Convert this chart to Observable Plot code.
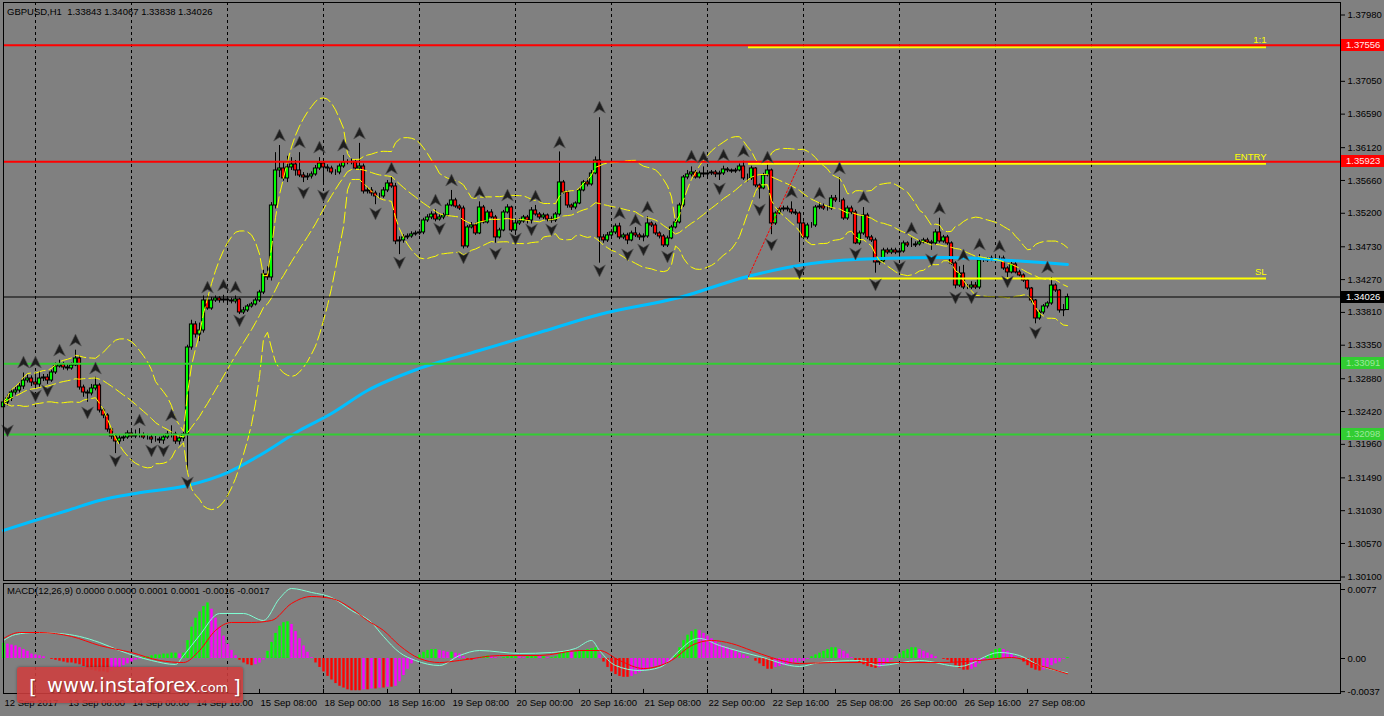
<!DOCTYPE html>
<html><head><meta charset="utf-8">
<script src="https://cdn.jsdelivr.net/npm/d3@7"></script>
<script src="https://cdn.jsdelivr.net/npm/@observablehq/plot@0.6"></script>
<style>
html,body{margin:0;padding:0;background:#808080;}
#wrap{position:relative;width:1384px;height:716px;overflow:hidden;background:#808080;font-family:"Liberation Sans",Arial,sans-serif;}
#main,#macd{position:absolute;left:0;}
#main{top:0}#macd{top:580px}
.hdr{position:absolute;font-size:9.5px;color:#000;white-space:pre;line-height:12px;}
.lbl{position:absolute;left:1341px;width:43px;height:12px;font-size:9.5px;line-height:12px;padding-left:5px;box-sizing:border-box;}
#logo{position:absolute;left:17px;top:667px;width:226px;height:36px;background:rgba(206,62,62,0.88);border-radius:3px;box-shadow:0 0 3px rgba(0,0,0,0.35);color:#fff;white-space:pre;font-family:"DejaVu Sans",sans-serif;}
#logo span.b{position:absolute;bottom:6px;font-size:20px;line-height:1;text-shadow:1px 1px 1px rgba(0,0,0,0.35);}
#logo span.t{position:absolute;left:30px;bottom:8px;font-size:19.5px;line-height:1;text-shadow:1px 1px 1px rgba(0,0,0,0.35);}
#logo span.t small{font-size:13px;}
</style></head><body><div id="wrap">
<div id="main"></div><div id="macd"></div>
<div class="hdr" style="left:7px;top:6px">GBPUSD,H1  1.33843 1.34067 1.33838 1.34026</div>
<div class="hdr" style="left:7px;top:585px">MACD(12,26,9) 0.0000 0.0000 0.0001 0.0001 -0.0016 -0.0017</div>
<div id="logo"><span class="b" style="left:12px">[</span><span class="t">www.instaforex<small>.com</small></span><span class="b" style="left:216px">]</span></div>
</div>
<script>
// ---------- DATA ----------
const firstOpen = 1.3248;
const closes = [
1.32547,1.32603,1.32687,1.32715,1.32771,1.32855,1.32883,1.32827,1.32799,1.32883,
1.32897,1.32855,1.32968,1.33052,1.33080,1.33038,1.33024,1.33066,1.33164,1.32757,
1.32687,1.32673,1.32743,1.32785,1.32435,1.32365,1.32168,1.32070,1.32000,1.32042,
1.32056,1.32112,1.32070,1.32084,1.32084,1.32056,1.32056,1.32028,1.32028,1.32014,
1.32056,1.32098,1.32098,1.32000,1.32042,1.32098,1.33318,1.33641,1.33500,1.33556,
1.33977,1.33865,1.33977,1.34005,1.33977,1.33991,1.33977,1.33963,1.33991,1.33809,
1.33837,1.33893,1.33921,1.33977,1.34089,1.34342,1.34300,1.35309,1.35800,1.35828,
1.35688,1.35842,1.35884,1.35800,1.35730,1.35702,1.35716,1.35744,1.35828,1.35898,
1.35842,1.35828,1.35772,1.35772,1.35856,1.35912,1.35912,1.35912,1.35828,1.35856,
1.35506,1.35520,1.35478,1.35436,1.35436,1.35520,1.35618,1.35576,1.34805,1.34819,
1.34861,1.34875,1.34903,1.34917,1.34931,1.35099,1.35141,1.35183,1.35113,1.35141,
1.35169,1.35309,1.35380,1.35295,1.35267,1.34735,1.35001,1.35029,1.34917,1.35281,
1.35071,1.35211,1.35141,1.34861,1.34959,1.35211,1.35281,1.34959,1.35057,1.35085,
1.35141,1.35099,1.35239,1.35183,1.35141,1.35169,1.35113,1.35099,1.35183,1.35632,
1.35492,1.35309,1.35281,1.35337,1.35520,1.35632,1.35604,1.35758,1.35940,1.34861,
1.34819,1.34889,1.34931,1.35015,1.34861,1.34889,1.34819,1.34917,1.34889,1.34861,
1.34875,1.35057,1.35029,1.34917,1.34875,1.34749,1.34847,1.35001,1.35071,1.35309,
1.35702,1.35744,1.35772,1.35702,1.35758,1.35744,1.35758,1.35772,1.35744,1.35758,
1.35814,1.35800,1.35786,1.35800,1.35856,1.35688,1.35688,1.35828,1.35590,1.35548,
1.35730,1.35800,1.35057,1.35197,1.35253,1.35267,1.35253,1.35211,1.35197,1.35057,
1.34861,1.35029,1.35029,1.35281,1.35295,1.35267,1.35267,1.35408,1.35380,1.35380,
1.35127,1.35267,1.35211,1.34777,1.34917,1.35169,1.34861,1.34819,1.34510,1.34524,
1.34678,1.34650,1.34678,1.34650,1.34664,1.34777,1.34749,1.34749,1.34763,1.34791,
1.34819,1.34791,1.34777,1.34931,1.34805,1.34861,1.34777,1.34496,1.34187,1.34356,
1.34159,1.34159,1.34187,1.34159,1.34538,1.34538,1.34552,1.34566,1.34566,1.34566,
1.34426,1.34370,1.34482,1.34370,1.34328,1.34257,1.34145,1.33977,1.33725,1.33809,
1.33893,1.33935,1.34187,1.34117,1.33837,1.33843,1.34026];
const highs = [
1.3260,1.3265,1.3273,1.3276,1.3282,1.3296,1.3293,1.3292,1.3296,1.3298,
1.3294,1.3294,1.3300,1.3310,1.3314,1.3311,1.3308,1.3310,1.3328,1.3320,
1.3279,1.3272,1.3280,1.3290,1.3281,1.3246,1.3239,1.3219,1.3210,1.3208,
1.3209,1.3215,1.3216,1.3216,1.3218,1.3212,1.3210,1.3209,1.3207,1.3206,
1.3209,1.3214,1.3222,1.3213,1.3208,1.3213,1.3335,1.3370,1.3368,1.3366,
1.3404,1.3404,1.3402,1.3404,1.3403,1.3405,1.3402,1.3401,1.3404,1.3401,
1.3388,1.3392,1.3395,1.3401,1.3412,1.3440,1.3445,1.3535,1.3605,1.3615,
1.3592,1.3600,1.3598,1.3594,1.3605,1.3577,1.3576,1.3578,1.3587,1.3598,
1.3592,1.3588,1.3586,1.3581,1.3589,1.3601,1.3595,1.3596,1.3594,1.3618,
1.3589,1.3556,1.3556,1.3551,1.3548,1.3556,1.3566,1.3570,1.3562,1.3487,
1.3490,1.3491,1.3494,1.3495,1.3497,1.3513,1.3518,1.3522,1.3525,1.3518,
1.3520,1.3534,1.3552,1.3541,1.3532,1.3530,1.3503,1.3507,1.3506,1.3536,
1.3531,1.3524,1.3525,1.3517,1.3499,1.3524,1.3532,1.3530,1.3509,1.3512,
1.3517,1.3517,1.3528,1.3531,1.3521,1.3520,1.3519,1.3515,1.3521,1.3606,
1.3566,1.3551,1.3533,1.3536,1.3555,1.3566,1.3568,1.3580,1.3599,1.3654,
1.3490,1.3493,1.3497,1.3505,1.3506,1.3492,1.3492,1.3495,1.3500,1.3492,
1.3491,1.3515,1.3508,1.3506,1.3494,1.3490,1.3488,1.3503,1.3511,1.3534,
1.3573,1.3580,1.3585,1.3580,1.3579,1.3585,1.3580,1.3580,1.3580,1.3579,
1.3586,1.3584,1.3582,1.3583,1.3589,1.3593,1.3575,1.3586,1.3584,1.3561,
1.3576,1.3592,1.3582,1.3522,1.3528,1.3530,1.3530,1.3536,1.3525,1.3522,
1.3508,1.3506,1.3507,1.3531,1.3535,1.3533,1.3530,1.3545,1.3545,1.3570,
1.3541,1.3530,1.3530,1.3524,1.3495,1.3528,1.3520,1.3489,1.3485,1.3456,
1.3471,1.3471,1.3471,1.3471,1.3470,1.3481,1.3480,1.3485,1.3480,1.3482,
1.3485,1.3485,1.3482,1.3497,1.3513,1.3489,1.3489,1.3480,1.3452,1.3445,
1.3447,1.3420,1.3424,1.3423,1.3462,1.3457,1.3458,1.3460,1.3461,1.3460,
1.3460,1.3445,1.3451,1.3451,1.3440,1.3435,1.3428,1.3416,1.3399,1.3384,
1.3392,1.3396,1.3430,1.3421,1.3413,1.3392,1.34067];
const lows = [
1.3236,1.3250,1.3256,1.3265,1.3268,1.3273,1.3282,1.3277,1.3274,1.3276,
1.3284,1.3280,1.3283,1.3294,1.3303,1.3300,1.3299,1.3300,1.3305,1.3272,
1.3262,1.3255,1.3264,1.3271,1.3240,1.3232,1.3213,1.3203,1.3183,1.3196,
1.3200,1.3203,1.3204,1.3204,1.3205,1.3203,1.3202,1.3197,1.3199,1.3197,
1.3196,1.3203,1.3205,1.3196,1.3195,1.3200,1.3159,1.3328,1.3345,1.3340,
1.3352,1.3384,1.3384,1.3395,1.3394,1.3394,1.3394,1.3393,1.3393,1.3378,
1.3378,1.3381,1.3387,1.3390,1.3395,1.3406,1.3426,1.3425,1.3526,1.3570,
1.3565,1.3563,1.3580,1.3572,1.3570,1.3563,1.3566,1.3568,1.3572,1.3580,
1.3560,1.3578,1.3574,1.3573,1.3574,1.3583,1.3588,1.3588,1.3580,1.3580,
1.3547,1.3547,1.3544,1.3532,1.3540,1.3541,1.3549,1.3555,1.3476,1.3462,
1.3478,1.3483,1.3485,1.3488,1.3489,1.3490,1.3507,1.3511,1.3508,1.3509,
1.3511,1.3515,1.3529,1.3527,1.3524,1.3470,1.3471,1.3498,1.3489,1.3490,
1.3505,1.3505,1.3512,1.3478,1.3484,1.3494,1.3519,1.3493,1.3489,1.3503,
1.3506,1.3505,1.3505,1.3516,1.3511,1.3511,1.3508,1.3506,1.3507,1.3516,
1.3547,1.3527,1.3524,1.3525,1.3532,1.3550,1.3557,1.3558,1.3574,1.3450,
1.3478,1.3479,1.3486,1.3490,1.3483,1.3483,1.3476,1.3480,1.3486,1.3482,
1.3480,1.3485,1.3500,1.3489,1.3484,1.3472,1.3472,1.3483,1.3498,1.3505,
1.3528,1.3567,1.3571,1.3568,1.3568,1.3570,1.3570,1.3573,1.3570,1.3566,
1.3573,1.3577,1.3576,1.3576,1.3578,1.3566,1.3564,1.3566,1.3556,1.3540,
1.3553,1.3571,1.3490,1.3503,1.3518,1.3522,1.3522,1.3518,1.3517,1.3451,
1.3483,1.3483,1.3499,1.3500,1.3525,1.3524,1.3523,1.3524,1.3535,1.3535,
1.3510,1.3510,1.3518,1.3476,1.3475,1.3489,1.3483,1.3479,1.3436,1.3447,
1.3450,1.3462,1.3462,1.3462,1.3460,1.3464,1.3472,1.3472,1.3472,1.3474,
1.3477,1.3477,1.3468,1.3475,1.3478,1.3478,1.3475,1.3447,1.3414,1.3416,
1.3413,1.3413,1.3413,1.3413,1.3413,1.3451,1.3451,1.3452,1.3453,1.3453,
1.3440,1.3430,1.3435,1.3435,1.3431,1.3423,1.3412,1.3394,1.3365,1.3370,
1.3378,1.3386,1.3391,1.3409,1.3380,1.3375,1.33838];

// fractal markers: [bar, price]
const fractalsUp = [[5,1.33108],[8,1.33108],[14,1.33276],[18,1.33416],[23,1.33024],[34,1.32295],[42,1.32365],
[51,1.34159],[55,1.34187],[58,1.34159],[69,1.36290],[74,1.36192],[79,1.36122],[85,1.36150],[89,1.36319],[97,1.35828],
[108,1.35379],[112,1.35660],[119,1.35491],[126,1.35449],[133,1.35435],[139,1.36192],[149,1.36683],[154,1.35197],
[158,1.35099],[161,1.35281],[172,1.35996],[175,1.35982],[180,1.36010],[185,1.36066],[191,1.35982],[197,1.35491],
[204,1.35477],[209,1.35828],[215,1.35421],[227,1.34987],[234,1.35267],[240,1.34608],[244,1.34762],[249,1.34734],[261,1.34440]];
const fractalsDown = [[1,1.32154],[8,1.32645],[11,1.32715],[21,1.32407],[28,1.31734],[37,1.31874],[40,1.31874],[46,1.31425],
[59,1.33697],[75,1.35491],[80,1.35449],[93,1.35197],[99,1.34510],[109,1.34987],[115,1.34580],[123,1.34636],[128,1.34846],
[132,1.34973],[137,1.34973],[149,1.34398],[156,1.34622],[160,1.34692],[166,1.34594],[179,1.35547],[189,1.35253],[192,1.34762],
[199,1.34370],[213,1.34636],[218,1.34201],[224,1.34454],[232,1.34552],[238,1.34019],[242,1.34019],[251,1.34243],[258,1.33528]];

// blue moving average: [bar, price]
const maPoints = [[0,1.30752],[7,1.30878],[16,1.31033],[24,1.31173],[33,1.31271],[46,1.31383],[56,1.31565],[64,1.31804],
[74,1.32154],[82,1.32393],[91,1.32715],[104,1.33024],[119,1.33276],[134,1.33528],[149,1.33781],[169,1.34019],
[186,1.34314],[202,1.34496],[219,1.34566],[236,1.34580],[252,1.34538],[266,1.34482]];

// levels
const redLevels = [1.37556, 1.35923];
const greenLevels = [1.33091, 1.32098];
const lastPrice = 1.34026;
const slLevel = 1.34313;
const tradeLabels = ["1:1", "ENTRY", "SL"];
const tradeLevels = [1.37556, 1.35923, 1.34313];
const tradeStart = 186.25, tradeEnd = 315.75;

const yTicks = [1.30100,1.30570,1.31030,1.31490,1.31960,1.32420,1.32880,1.33350,1.33810,1.34270,1.34730,1.35200,1.35660,1.36120,1.36590,1.37050,1.37510,1.37980];
const hiddenTick = 1.37510; // covered by the 1.37556 price tag

// MACD histogram per bar
const macdHist = [
.0017,.0016,.0015,.0014,.0012,.0010,.0008,
.0005,.0004,.0003,.0002,
0,-.0001,-.0002,-.0003,-.0004,-.0005,-.0005,-.0006,
-.0007,-.0009,-.0011,-.0013,-.0014,-.0015,-.0015,-.0016,
-.0014,-.0012,-.0010,-.0008,-.0006,-.0004,
-.0002,-.0001,.0001,
.0002,.0003,.0004,.0004,.0005,.0005,.0006,.0006,.0005,.0006,
.0020,.0035,.0045,.0052,.0058,.0062,
.0055,.0045,.0035,.0025,.0016,.0009,.0003,
-.0002,-.0005,-.0007,-.0008,-.0007,-.0005,-.0002,
.0008,.0018,.0028,.0036,.0040,.0041,.0038,
.0030,.0022,.0014,.0007,.0001,-.0005,
-.0010,-.0015,-.0020,-.0024,-.0028,-.0031,-.0033,-.0035,-.0036,-.0036,
-.0036,-.0035,-.0035,-.0034,-.0034,-.0033,-.0033,-.0032,-.0032,-.0031,
-.0026,-.0019,-.0012,-.0006,0,
.0004,.0007,.0009,.0010,.0010,.0009,.0008,.0007,.0007,.0006,.0005,.0002,
-.0001,-.0002,-.0001,.0001,.0002,.0003,.0002,.0001,0,.0001,.0002,.0003,
.0003,.0002,.0001,.0002,.0003,.0003,.0002,.0002,.0001,.0001,.0002,
.0006,.0008,.0008,.0007,.0007,.0008,.0009,.0010,.0011,.0012,
.0004,-.0004,-.0010,-.0015,-.0018,-.0020,-.0021,-.0021,
-.0020,-.0018,-.0016,-.0014,-.0012,-.0010,-.0009,-.0008,-.0007,-.0005,
-.0002,.0004,.0012,.0020,.0026,.0030,.0032,.0031,
.0028,.0025,.0022,.0019,.0016,.0014,.0012,.0010,.0008,.0006,
.0004,.0002,0,-.0003,-.0006,-.0009,-.0012,-.0012,-.0010,-.0009,-.0008,
-.0007,-.0006,-.0005,-.0004,-.0003,-.0001,
.0002,.0004,.0006,.0008,.0010,.0012,.0012,.0010,.0008,
.0005,.0001,-.0003,-.0005,-.0007,-.0009,-.0010,-.0011,-.0010,
-.0008,-.0005,-.0002,.0002,.0005,.0008,.0010,.0012,.0012,.0010,.0008,
.0006,.0004,.0002,0,-.0001,-.0002,
-.0005,-.0008,-.0011,-.0013,-.0013,-.0012,-.0010,-.0006,-.0002,
.0003,.0007,.0010,.0011,.0010,.0008,.0005,.0002,
-.0001,-.0004,-.0008,-.0011,-.0013,-.0014,-.0013,
-.0010,-.0008,-.0006,-.0004,-.0001,.0001];

// MACD lines: [bar, value]
const macdCyan = [[0,.00201],[3,.00268],[8,.00290],[14,.00279],[19,.00246],[24,.00179],[29,.00089],[37,-.00022],[43,-.00067],
[45,.00033],[49,.00257],[54,.00502],[60,.00502],[65,.00424],[69,.00670],[72,.00781],[77,.00737],[82,.00681],[87,.00536],
[92,.00402],[95,.00246],[99,.00067],[103,-.00022],[109,-.00078],[114,.00033],[119,.00089],[129,.00056],[137,.00067],
[143,.00112],[147,.00201],[149,.00089],[153,-.00078],[159,-.00134],[164,-.00100],[169,.00089],[172,.00201],[174,.00223],
[179,.00145],[189,.00022],[199,-.00089],[204,-.00045],[214,-.00022],[219,-.00078],[229,-.00022],[239,-.00089],
[249,.00067],[254,.00033],[259,-.00078],[266,-.0016]];
const macdRed = [[0,.00223],[4,.00290],[9,.00290],[17,.00246],[24,.00145],[32,.00067],[39,-.00022],[45,-.00045],[49,.00089],
[53,.00313],[57,.00402],[62,.00402],[67,.00424],[72,.00614],[77,.00692],[82,.00670],[87,.00558],[91,.00424],[95,.00313],
[99,.00145],[104,0],[109,-.00045],[114,-.00022],[124,.00033],[134,.00033],[144,.00089],[149,.00089],[154,-.00022],
[160,-.00112],[167,-.00022],[172,.00145],[177,.00201],[182,.00167],[187,.00089],[192,.00011],[199,-.00056],[207,-.00045],
[214,-.00045],[224,-.00045],[234,-.00045],[244,-.00022],[252,.00011],[259,-.00078],[266,-.0017]];
const macdTicks = [0.0077, 0, -0.0037];
const macdTickText = ["0.0077", "0.00", "-0.0037"];

// time axis
const dayBars = [8,32,56,80,104,128,152,176,200,224,248,272];
const labelBars = [0,16,32,48,64,80,96,112,128,144,160,176,192,208,224,240,256];
const timeLabels = ["12 Sep 2017","13 Sep 08:00","14 Sep 00:00","14 Sep 16:00","15 Sep 08:00","18 Sep 00:00","18 Sep 16:00",
"19 Sep 08:00","20 Sep 00:00","20 Sep 16:00","21 Sep 08:00","22 Sep 00:00","22 Sep 16:00","25 Sep 08:00","26 Sep 00:00",
"26 Sep 16:00","27 Sep 08:00"];

// ---------- BUILD ----------
const candles = closes.map((c, i) => ({i, open: i === 0 ? firstOpen : closes[i - 1], close: c, high: highs[i], low: lows[i]}));
const xDomain = [0, 334.25];
const font = "Liberation Sans, Arial, sans-serif";

const arrowUp = {draw(ctx, size) { const r = Math.sqrt(size / Math.PI);
  ctx.moveTo(0, -r); ctx.lineTo(0.9 * r, 0.85 * r); ctx.lineTo(0, 0.3 * r); ctx.lineTo(-0.9 * r, 0.85 * r); ctx.closePath(); }};
const arrowDown = {draw(ctx, size) { const r = Math.sqrt(size / Math.PI);
  ctx.moveTo(0, r); ctx.lineTo(0.9 * r, -0.85 * r); ctx.lineTo(0, -0.3 * r); ctx.lineTo(-0.9 * r, -0.85 * r); ctx.closePath(); }};

const bbMid = v => d3.mean(v);
const bbDev = v => { const m = d3.mean(v); return Math.sqrt(d3.mean(v, x => (x - m) * (x - m))); };
const bbUp = v => bbMid(v) + 2 * bbDev(v);
const bbLo = v => bbMid(v) - 2 * bbDev(v);
const bbStyle = {x: "i", y: "close", stroke: "#ffff00", strokeWidth: 1, strokeDasharray: "11,4"};

const main = Plot.plot({
  width: 1384, height: 580,
  marginLeft: 3, marginRight: 44, marginTop: 2, marginBottom: 0,
  x: {domain: xDomain, axis: null},
  y: {domain: [1.30051, 1.381553], axis: null},
  style: {background: "transparent", fontFamily: font, fontSize: "9.5px", color: "black", overflow: "visible"},
  marks: [
    Plot.ruleX(dayBars, {x: d => d, stroke: "black", strokeDasharray: "3,3"}),
    Plot.ruleX(candles, {x: "i", y1: "low", y2: "high", stroke: "black", strokeWidth: 1}),
    Plot.rect(candles, {x1: d => d.i - 0.4, x2: d => d.i + 0.4, y1: "open", y2: "close",
      fill: d => d.close >= d.open ? "#00ff00" : "#ff0000", stroke: "black", strokeWidth: 1}),
    Plot.line(maPoints, {x: d => d[0], y: d => d[1], stroke: "#00bfff", strokeWidth: 3, curve: "monotone-x"}),
    Plot.lineY(candles, Plot.windowY({k: 20, anchor: "end", reduce: bbUp}, bbStyle)),
    Plot.lineY(candles, Plot.windowY({k: 20, anchor: "end", reduce: bbMid}, bbStyle)),
    Plot.lineY(candles, Plot.windowY({k: 20, anchor: "end", reduce: bbLo}, bbStyle)),
    Plot.ruleY([lastPrice], {stroke: "black", strokeWidth: 1}),
    Plot.ruleY(tradeLevels, {x1: tradeStart, x2: tradeEnd, stroke: "#ffff00", strokeWidth: 2, dy: 2}),
    Plot.ruleY(redLevels, {stroke: "#ff0000", strokeWidth: 2}),
    Plot.ruleY(greenLevels, {stroke: "#32cd32", strokeWidth: 2}),
    Plot.line([[tradeStart, slLevel], [199.25, 1.35923]], {x: d => d[0], y: d => d[1], stroke: "#ff0000", strokeDasharray: "2,2", strokeWidth: 1}),
    Plot.text(tradeLabels, {x: tradeEnd, y: (d, i) => tradeLevels[i], text: d => d, textAnchor: "end", dy: -5, fill: "#ffff00", fontSize: 9.5}),
    Plot.dot(fractalsUp, {x: d => d[0], y: d => d[1], symbol: arrowUp, r: 6.5, fill: "#1e1e1e", stroke: "#555", strokeWidth: 0.6}),
    Plot.dot(fractalsDown, {x: d => d[0], y: d => d[1], symbol: arrowDown, r: 6.5, fill: "#1e1e1e", stroke: "#555", strokeWidth: 0.6}),
    Plot.frame({stroke: "black"}),
    Plot.axisY(yTicks, {anchor: "right", tickSize: 4, tickPadding: 3, tickFormat: d => d === hiddenTick ? "" : d.toFixed(5), label: null, fill: "black", stroke: "black", fontSize: 9.5})
  ]
});
document.getElementById("main").appendChild(main);

const histColor = (v, i) => {
  const prev = i > 0 ? macdHist[i - 1] : v;
  if (v >= 0) return v >= prev ? "#00ff00" : "#ff00ff";
  return v <= prev ? "#ff0000" : "#ff00ff";
};
const histData = macdHist.map((v, i) => ({i, v, c: histColor(v, i)}));

const macd = Plot.plot({
  width: 1384, height: 136,
  marginLeft: 3, marginRight: 44, marginTop: 3, marginBottom: 23,
  x: {domain: xDomain, axis: null},
  y: {domain: [-0.003906, 0.00837], axis: null},
  style: {background: "transparent", fontFamily: font, fontSize: "9.5px", color: "black", overflow: "visible"},
  marks: [
    Plot.ruleX(dayBars, {x: d => d, stroke: "black", strokeDasharray: "3,3"}),
    Plot.ruleX(histData, {x: "i", y1: 0, y2: "v", stroke: "c", strokeWidth: 2.4}),
    Plot.line(macdCyan, {x: d => d[0], y: d => d[1], stroke: "#7fffd4", strokeWidth: 1, curve: "monotone-x"}),
    Plot.line(macdRed, {x: d => d[0], y: d => d[1], stroke: "#ff0000", strokeWidth: 1, curve: "monotone-x"}),
    Plot.frame({stroke: "black"}),
    Plot.axisY(macdTicks, {anchor: "right", tickSize: 4, tickPadding: 3, tickFormat: (d, i) => macdTickText[i], label: null, fill: "black", stroke: "black", fontSize: 9.5}),
    Plot.ruleX(labelBars.concat(dayBars.slice(0, 11)), {x: d => d, y1: -0.003906, y2: -0.00345, stroke: "black"}),
    Plot.text(timeLabels, {x: (d, i) => labelBars[i], text: d => d, frameAnchor: "bottom", dy: 12, dx: 1, textAnchor: "start", fill: "black", fontSize: 9.5})
  ]
});
document.getElementById("macd").appendChild(macd);

// price tags on the right axis
const ys = main.scale("y");
const tags = [
  {v: 1.37556, bg: "#ff0000", fg: "#ffe8e8"},
  {v: 1.35923, bg: "#ff0000", fg: "#ffe8e8"},
  {v: 1.33091, bg: "#32cd32", fg: "#9be89b"},
  {v: 1.32098, bg: "#32cd32", fg: "#9be89b"},
  {v: lastPrice, bg: "#000000", fg: "#ffffff"}
];
const wrap = document.getElementById("wrap");
for (const t of tags) {
  const d = document.createElement("div");
  d.className = "lbl";
  d.style.top = (ys.apply(t.v) - 6) + "px";
  d.style.background = t.bg;
  d.style.color = t.fg;
  d.textContent = t.v.toFixed(5);
  wrap.appendChild(d);
}
</script></body></html>
